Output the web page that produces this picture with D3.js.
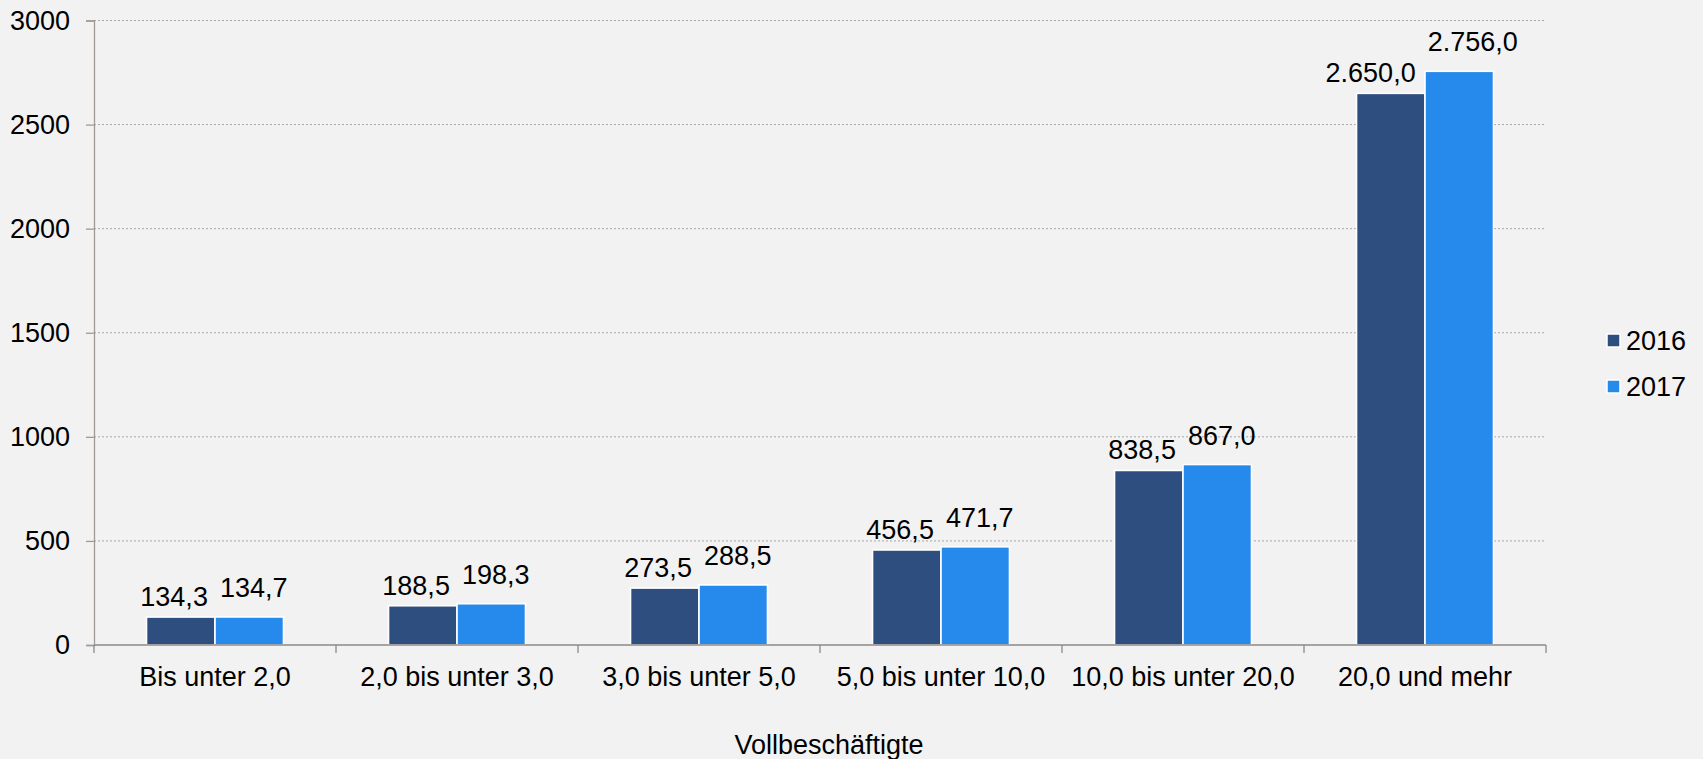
<!DOCTYPE html>
<html>
<head>
<meta charset="utf-8">
<script src="https://cdn.jsdelivr.net/npm/d3@7"></script>
<style>
  html, body { margin: 0; padding: 0; background: #f2f2f2; }
  svg { display: block; font-family: "Liberation Sans", Arial, sans-serif; }
</style>
</head>
<body>
<script>
// values
const categories = ["Bis unter 2,0", "2,0 bis unter 3,0", "3,0 bis unter 5,0",
                    "5,0 bis unter 10,0", "10,0 bis unter 20,0", "20,0 und mehr"];
const series = ["2016", "2017"];
const values2016 = [134.3, 188.5, 273.5, 456.5, 838.5, 2650.0];
const values2017 = [134.7, 198.3, 288.5, 471.7, 867.0, 2756.0];
const yTicks = [0, 500, 1000, 1500, 2000, 2500, 3000];
const xTitle = "Vollbeschäftigte";

const colors = ["#2f4e80", "#258aeb"];
const width = 1703;
const height = 759;
const margin = {top: 20.5, right: 157, bottom: 114, left: 94};
const fontSize = 27;

const de = d3.formatLocale({decimal: ",", thousands: ".", grouping: [3], currency: ["", " €"]});
const fmt = de.format(",.1f");

const svg = d3.select("body").append("svg")
  .attr("width", width).attr("height", height);

svg.append("rect").attr("width", width).attr("height", height).attr("fill", "#f2f2f2");

const x = d3.scaleBand().domain(categories)
  .range([margin.left, width - margin.right]);
const y = d3.scaleLinear().domain([0, 3000])
  .range([height - margin.bottom, margin.top]);

const groupWidth = x.bandwidth() * 0.566;
const xs = d3.scaleBand().domain(series).range([0, groupWidth]);

// gridlines
svg.append("g")
  .selectAll("line")
  .data(yTicks.filter(d => d > 0))
  .enter().append("line")
  .attr("x1", margin.left).attr("x2", width - margin.right)
  .attr("y1", d => y(d)).attr("y2", d => y(d))
  .attr("stroke", "#a6a6a6").attr("stroke-width", 1)
  .attr("stroke-dasharray", "2,2");

// y axis
const yAxis = svg.append("g")
  .attr("transform", `translate(${margin.left},0)`)
  .call(d3.axisLeft(y).tickValues(yTicks).tickSize(8).tickPadding(16).tickFormat(d3.format("d")));
yAxis.select(".domain").attr("stroke", "#a09a96").attr("stroke-width", 1.3);
yAxis.selectAll(".tick line").attr("stroke", "#a09a96").attr("stroke-width", 1.3);
yAxis.selectAll(".tick text")
  .attr("font-size", fontSize).attr("font-family", "Liberation Sans, Arial, sans-serif")
  .attr("fill", "#000");

// bars
const rows = categories.map((c, i) => ({cat: c, vals: [values2016[i], values2017[i]]}));
const groups = svg.append("g").selectAll("g")
  .data(rows).enter().append("g")
  .attr("transform", d => `translate(${x(d.cat) + (x.bandwidth() - groupWidth) / 2},0)`);

groups.selectAll("rect")
  .data(d => d.vals.map((v, j) => ({s: series[j], v: v, j: j})))
  .enter().append("rect")
  .attr("x", d => xs(d.s))
  .attr("width", xs.bandwidth())
  .attr("y", d => y(d.v))
  .attr("height", d => y(0) - y(d.v))
  .attr("fill", d => colors[d.j])
  .attr("stroke", "#ffffff").attr("stroke-width", 1.6);

groups.each(function() {
  const labels = d3.select(this).selectAll("text")
    .data(d => d.vals.map((v, j) => ({s: series[j], v: v, j: j})))
    .enter().append("text")
    .attr("x", d => xs(d.s) + xs.bandwidth() / 2)
    .attr("y", d => y(d.v) - (d.j === 0 ? 11 : 20))
    .attr("text-anchor", "middle")
    .attr("font-size", fontSize)
    .attr("fill", "#000")
    .text(d => fmt(d.v));
  // push the two labels apart if they crowd each other
  const nodes = labels.nodes();
  const w0 = nodes[0].getComputedTextLength(), w1 = nodes[1].getComputedTextLength();
  const c0 = xs(series[0]) + xs.bandwidth() / 2, c1 = xs(series[1]) + xs.bandwidth() / 2;
  const overlap = (c0 + w0 / 2) - (c1 - w1 / 2) + 12;
  if (overlap > 0) {
    d3.select(nodes[0]).attr("x", c0 - overlap * 0.6);
    d3.select(nodes[1]).attr("x", c1 + overlap * 0.4);
  }
});

// x axis
const xAxis = svg.append("g")
  .attr("transform", `translate(0,${y(0)})`);
xAxis.append("line")
  .attr("x1", margin.left).attr("x2", width - margin.right)
  .attr("stroke", "#8c8886").attr("stroke-width", 1.3);
const boundaries = categories.map(c => x(c)).concat([x.range()[1]]);
xAxis.selectAll(".bt").data(boundaries).enter().append("line")
  .attr("class", "bt")
  .attr("x1", d => d).attr("x2", d => d)
  .attr("y1", 0).attr("y2", 8)
  .attr("stroke", "#8c8886").attr("stroke-width", 1.3);
xAxis.selectAll("text").data(categories).enter().append("text")
  .attr("x", d => x(d) + x.bandwidth() / 2)
  .attr("y", 41)
  .attr("text-anchor", "middle")
  .attr("font-size", fontSize)
  .attr("fill", "#000")
  .text(d => d);

// axis title
svg.append("text")
  .attr("x", 829).attr("y", 754)
  .attr("text-anchor", "middle")
  .attr("font-size", fontSize)
  .attr("fill", "#000")
  .text(xTitle);

// legend
const legend = svg.append("g").selectAll("g")
  .data(series).enter().append("g")
  .attr("transform", (d, i) => `translate(1607,${334 + i * 46})`);
legend.append("rect")
  .attr("width", 13).attr("height", 13)
  .attr("fill", (d, i) => colors[i])
  .attr("stroke", "#ffffff").attr("stroke-width", 1.5);
legend.append("text")
  .attr("x", 19).attr("y", 16)
  .attr("font-size", fontSize)
  .attr("fill", "#000")
  .text(d => d);
</script>
</body>
</html>
